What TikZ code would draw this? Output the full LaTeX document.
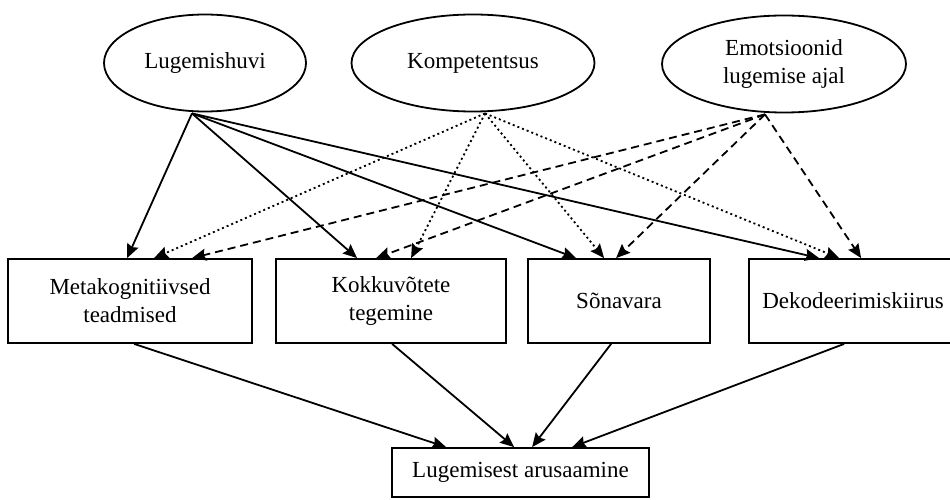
\documentclass[tikz,border=0pt]{standalone}
\usepackage{fontspec}
\setmainfont{Liberation Serif}
\usetikzlibrary{arrows.meta,shapes.geometric}
\begin{document}
\begin{tikzpicture}[x=1pt,y=-1pt,
  every node/.style={font=\fontsize{23}{28}\selectfont, align=center, inner sep=0pt},
  oval/.style={ellipse, draw, line width=1.8pt},
  box/.style={rectangle, draw, line width=1.8pt},
  arr/.style={line width=1.8pt, -{Stealth[length=14pt,width=12pt,inset=2pt]}},
  solidarr/.style={arr},
  dotarr/.style={arr, dash pattern=on 2pt off 3pt},
  dasharr/.style={arr, dash pattern=on 8pt off 5pt}]
\clip (0,0) rectangle (950,500);
\fill[white] (0,0) rectangle (950,500);
% ellipses
\node[oval, minimum width=202pt, minimum height=97pt] (L) at (205,63) {Lugemishuvi};
\node[oval, minimum width=243pt, minimum height=97pt] (K) at (473,63) {Kompetentsus};
\node[oval, minimum width=244pt, minimum height=97pt] (E) at (784,64) {Emotsioonid\\lugemise ajal};
% boxes
\node[box, minimum width=244pt, minimum height=84pt] (M) at (130,301) {Metakognitiivsed\\teadmised};
\node[box, minimum width=230pt, minimum height=84pt] (Ko) at (391,301) {Kokkuvõtete\\tegemine};
\node[box, minimum width=182pt, minimum height=84pt] (S) at (619,301) {Sõnavara};
\node[box, minimum width=208pt, minimum height=84pt] (D) at (853,301) {Dekodeerimiskiirus};
\node[box, minimum width=257pt, minimum height=49pt] (B) at (520.5,472.5) {Lugemisest arusaamine};
% sources
\coordinate (Ls) at ([xshift=-13pt,yshift=-1pt]L.south);
\coordinate (Ks) at ([xshift=12pt,yshift=-1pt]K.south);
\coordinate (Es) at ([xshift=-19pt,yshift=-1pt]E.south);
% Lugemishuvi (solid)
\draw[solidarr] (Ls) -- ([xshift=120pt]M.north west);
\draw[solidarr] (Ls) -- ([xshift=82pt]Ko.north west);
\draw[solidarr] (Ls) -- ([xshift=49pt]S.north west);
\draw[solidarr] (Ls) -- ([xshift=71pt]D.north west);
% Kompetentsus (dotted)
\draw[dotarr] (Ks) -- ([xshift=147pt]M.north west);
\draw[dotarr] (Ks) -- ([xshift=136pt]Ko.north west);
\draw[dotarr] (Ks) -- ([xshift=77pt]S.north west);
\draw[dotarr] (Ks) -- ([xshift=91pt]D.north west);
% Emotsioonid (dashed)
\draw[dasharr] (Es) -- ([xshift=185pt]M.north west);
\draw[dasharr] (Es) -- ([xshift=101pt]Ko.north west);
\draw[dasharr] (Es) -- ([xshift=89pt]S.north west);
\draw[dasharr] (Es) -- ([xshift=113pt]D.north west);
% to Lugemisest arusaamine
\draw[solidarr] ([xshift=127pt]M.south west) -- ([xshift=55pt]B.north west);
\draw[solidarr] ([xshift=117pt]Ko.south west) -- ([xshift=123pt]B.north west);
\draw[solidarr] ([xshift=84pt]S.south west) -- ([xshift=141pt]B.north west);
\draw[solidarr] ([xshift=96pt]D.south west) -- ([xshift=181pt]B.north west);
\end{tikzpicture}
\end{document}
